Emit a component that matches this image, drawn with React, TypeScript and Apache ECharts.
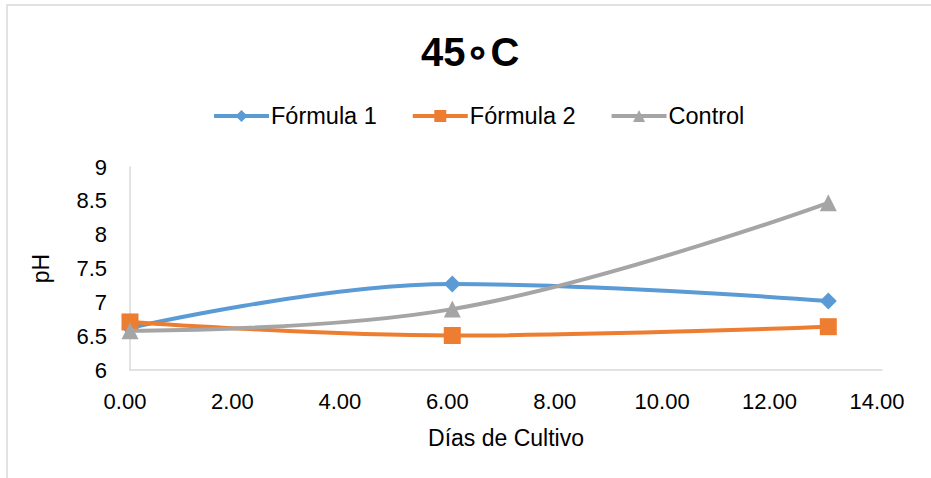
import React, { useEffect, useRef } from "react";
import * as echarts from "echarts";

const days = [0, 6, 13];
const formula1 = [6.62, 7.27, 7.02];
const formula2 = [6.71, 6.51, 6.64];
const control = [6.58, 6.9, 8.47];
const seriesNames = ["Fórmula 1", "Fórmula 2", "Control"];
const colors = ["#5B9BD5", "#ED7D31", "#A5A5A5"];
const symbols = ["diamond", "rect", "triangle"];

export default function App() {
  const ref = useRef<HTMLDivElement>(null);
  useEffect(() => {
    if (!ref.current) return;
    const chart = echarts.init(ref.current, undefined, { renderer: "svg" });
    const font = "'Liberation Sans', Arial, sans-serif";
    const data = [formula1, formula2, control];
    chart.setOption({
      animation: false,
      backgroundColor: "#ffffff",
      title: {
        text: "45\u2218C",
        left: 416,
        top: 27,
        textStyle: { fontFamily: font, fontSize: 40, fontWeight: "bold", color: "#000" },
      },
      legend: {
        left: 207,
        top: 99,
        itemWidth: 55,
        itemHeight: 15,
        itemGap: 34,
        data: seriesNames,
        lineStyle: { width: 4 },
        textStyle: { fontFamily: font, fontSize: 23.5, color: "#000", padding: [0, 0, 0, -3] },
      },
      grid: { left: 130, right: 49, top: 167, bottom: 108, containLabel: false },
      xAxis: {
        type: "value",
        min: 0,
        max: 14,
        interval: 2,
        name: "Días de Cultivo",
        nameLocation: "middle",
        nameGap: 56,
        nameTextStyle: { fontFamily: font, fontSize: 23, color: "#000" },
        axisLine: { show: true, lineStyle: { color: "#d9d9d9", width: 1.5 } },
        axisTick: { show: false },
        splitLine: { show: false },
        axisLabel: {
          fontFamily: font,
          fontSize: 22,
          color: "#000",
          margin: 20,
          padding: [0, 10, 0, 0],
          formatter: (v: number) => v.toFixed(2),
        },
      },
      yAxis: {
        type: "value",
        min: 6,
        max: 9,
        interval: 0.5,
        name: "pH",
        nameLocation: "middle",
        nameGap: 78,
        nameTextStyle: { fontFamily: font, fontSize: 23, color: "#000" },
        axisLine: { show: true, lineStyle: { color: "#d9d9d9", width: 1.5 } },
        axisTick: { show: false },
        splitLine: { show: false },
        axisLabel: { fontFamily: font, fontSize: 22, color: "#000", margin: 23 },
      },
      graphic: [
        {
          type: "rect",
          shape: { x: 7, y: 5, width: 1000, height: 600 },
          style: { fill: "none", stroke: "#d9d9d9", lineWidth: 1.5 },
          silent: true,
        },
      ],
      series: seriesNames.map((name, i) => ({
        name,
        type: "line",
        smooth: 0.4,
        data: days.map((d, j) => [d, data[i][j]]),
        symbol: symbols[i],
        symbolSize: 17,
        lineStyle: { color: colors[i], width: 4 },
        itemStyle: { color: colors[i] },
        z: 2 + i,
      })),
    });
    return () => chart.dispose();
  }, []);
  return (
    <div
      ref={ref}
      style={{ position: "fixed", left: 0, top: 0, width: 931, height: 478 }}
    />
  );
}
